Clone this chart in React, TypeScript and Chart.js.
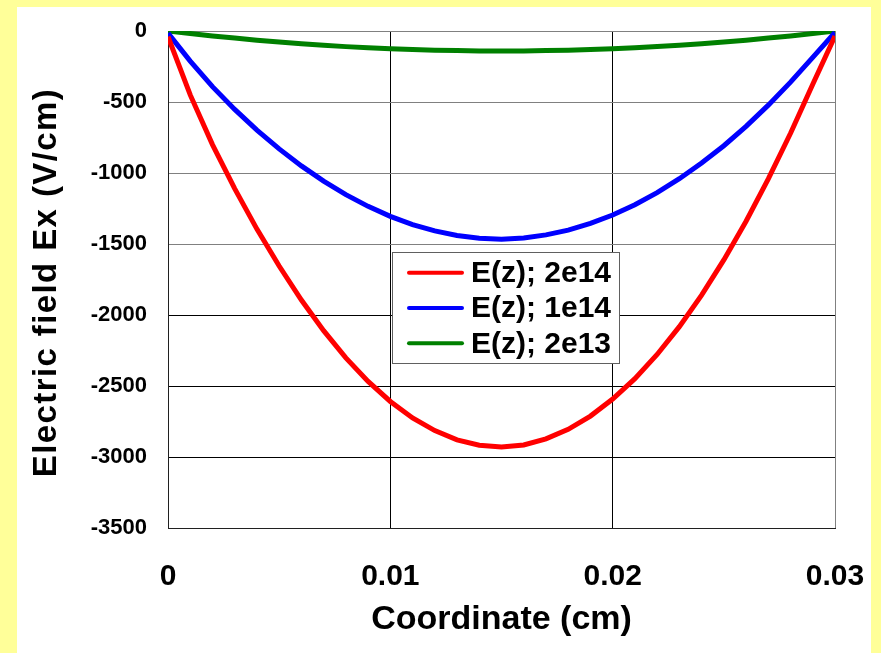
import React, { useEffect, useRef } from "react";
import { Chart, registerables } from "chart.js";

Chart.register(...registerables);

// Coordinate along the device (cm)
const coordinates = [
  0, 0.001, 0.002, 0.003, 0.004, 0.005, 0.006, 0.007, 0.008, 0.009, 0.01,
  0.011, 0.012, 0.013, 0.014, 0.015, 0.016, 0.017, 0.018, 0.019, 0.02,
  0.021, 0.022, 0.023, 0.024, 0.025, 0.026, 0.027, 0.028, 0.029, 0.03,
];

// Electric field Ex (V/cm)
const field2e14 = [
  -40, -450, -800, -1110, -1395, -1655, -1895, -2110, -2302, -2468, -2609,
  -2725, -2814, -2879, -2917, -2930, -2915, -2872, -2805, -2712, -2592,
  -2448, -2278, -2082, -1860, -1612, -1340, -1042, -720, -375, -35,
];
const field1e14 = [
  -15, -212, -392, -552, -698, -830, -950, -1057, -1152, -1235, -1305,
  -1363, -1408, -1440, -1460, -1466, -1458, -1436, -1402, -1355, -1296,
  -1224, -1138, -1040, -930, -808, -672, -522, -360, -186, -10,
];
const field2e13 = [
  0, -18, -35, -50, -65, -78, -90, -100, -110, -118, -125,
  -131, -135, -138, -140, -140, -140, -138, -135, -131, -125,
  -118, -110, -100, -90, -78, -65, -50, -35, -18, 0,
];

const seriesLabels = ["E(z); 2e14", "E(z); 1e14", "E(z); 2e13"];
const seriesColors = ["#FF0000", "#0000FF", "#008000"];

const xTickValues = [0, 0.01, 0.02, 0.03];
const xTickLabels = ["0", "0.01", "0.02", "0.03"];
const yTickLabelsByValue: Record<string, string> = {
  "0": "0",
  "-500": "-500",
  "-1000": "-1000",
  "-1500": "-1500",
  "-2000": "-2000",
  "-2500": "-2500",
  "-3000": "-3000",
  "-3500": "-3500",
};

const xAxisTitle = "Coordinate (cm)";
const yAxisTitle = "Electric field Ex (V/cm)";

const FONT = '"Liberation Sans", Arial, Helvetica, sans-serif';

const boxLegendPlugin = {
  id: "boxLegend",
  afterDatasetsDraw(chart: any) {
    const ctx = chart.ctx as CanvasRenderingContext2D;
    ctx.save();
    const bx = 375;
    const by = 245;
    const bw = 227;
    const bh = 111;
    ctx.fillStyle = "#FFFFFF";
    ctx.fillRect(bx, by, bw, bh);
    ctx.strokeStyle = "#606060";
    ctx.lineWidth = 1;
    ctx.strokeRect(bx + 0.5, by + 0.5, bw, bh);
    chart.data.datasets.forEach((ds: any, i: number) => {
      const cy = 265.7 + i * 35.3;
      ctx.strokeStyle = ds.borderColor;
      ctx.lineWidth = 4;
      ctx.lineCap = "round";
      ctx.beginPath();
      ctx.moveTo(392, cy);
      ctx.lineTo(445, cy);
      ctx.stroke();
      ctx.fillStyle = "#000000";
      ctx.font = `bold 30px ${FONT}`;
      ctx.textAlign = "left";
      ctx.textBaseline = "middle";
      ctx.fillText(ds.label, 454, cy + 1);
    });
    ctx.restore();
  },
};

const yTitlePlugin = {
  id: "yTitle",
  afterDraw(chart: any) {
    const ctx = chart.ctx as CanvasRenderingContext2D;
    ctx.save();
    ctx.translate(30, 275.5);
    ctx.rotate(-Math.PI / 2);
    ctx.font = `bold 33px ${FONT}`;
    try {
      (ctx as any).letterSpacing = "1.4px";
    } catch (e) {
      /* ignore */
    }
    ctx.fillStyle = "#000000";
    ctx.textAlign = "center";
    ctx.textBaseline = "middle";
    ctx.fillText(yAxisTitle, 0, 0);
    ctx.restore();
  },
};

export default function App() {
  const canvasRef = useRef<HTMLCanvasElement | null>(null);

  useEffect(() => {
    const canvas = canvasRef.current;
    if (!canvas) return;
    const makeData = (values: number[]) =>
      coordinates.map((x, i) => ({ x, y: values[i] }));
    const allSeries = [field2e14, field1e14, field2e13];

    const chart = new Chart(canvas, {
      type: "line",
      data: {
        datasets: allSeries.map((values, i) => ({
          label: seriesLabels[i],
          data: makeData(values),
          borderColor: seriesColors[i],
          backgroundColor: seriesColors[i],
          borderWidth: 5,
          pointRadius: 0,
          tension: 0,
          fill: false,
        })),
      },
      options: {
        animation: false,
        responsive: false,
        events: [],
        layout: { padding: { left: 0, top: 24, right: 36, bottom: 0 } },
        plugins: {
          legend: { display: false },
          title: { display: false },
          tooltip: { enabled: false },
        },
        scales: {
          x: {
            type: "linear",
            min: 0,
            max: 0.03,
            afterFit: (scale: any) => {
              scale.height = 125;
              scale.paddingLeft = 0;
              scale.paddingRight = 0;
            },
            afterBuildTicks: (scale: any) => {
              scale.ticks = xTickValues.map((v) => ({ value: v }));
            },
            ticks: {
              autoSkip: false,
              maxRotation: 0,
              padding: 31,
              color: "#000000",
              font: { family: FONT, size: 30, weight: "bold" },
              callback: (value: any, index: number) => {
                const k = xTickValues.findIndex(
                  (t) => Math.abs(t - Number(value)) < 1e-9
                );
                return k >= 0 ? xTickLabels[k] : xTickLabels[index];
              },
            },
            grid: {
              drawTicks: false,
              lineWidth: 1,
              color: (c: any) => {
                const v = c.tick ? c.tick.value : 0;
                return v > 0.025 ? "#808080" : "#000000";
              },
            },
            border: { display: true, color: "#202020", width: 1 },
            title: {
              display: true,
              text: xAxisTitle,
              color: "#000000",
              font: { family: FONT, size: 34, weight: "bold" },
              padding: { top: 0, bottom: 13 },
            },
          },
          y: {
            type: "linear",
            min: -3500,
            max: 0,
            afterFit: (scale: any) => {
              scale.width = 151;
              scale.paddingTop = 0;
              scale.paddingBottom = 0;
            },
            ticks: {
              stepSize: 500,
              padding: 21,
              color: "#000000",
              font: { family: FONT, size: 22, weight: "bold" },
              callback: (value: any) =>
                yTickLabelsByValue[String(Math.round(Number(value)))] ??
                String(value),
            },
            grid: {
              drawTicks: false,
              lineWidth: 1,
              color: (c: any) => {
                const v = c.tick ? c.tick.value : 0;
                return v >= -1500 ? "#808080" : "#000000";
              },
            },
            border: { display: true, color: "#202020", width: 1 },
          },
        },
      },
      plugins: [boxLegendPlugin, yTitlePlugin],
    } as any);

    return () => {
      chart.destroy();
    };
  }, []);

  return (
    <div
      style={{
        position: "fixed",
        left: 0,
        top: 0,
        width: 881,
        height: 653,
        background: "#FFFF99",
        overflow: "hidden",
      }}
    >
      <div
        style={{
          position: "absolute",
          left: 17,
          top: 7,
          width: 854,
          height: 646,
          background: "#FFFFFF",
        }}
      >
        <canvas
          ref={canvasRef}
          width={854}
          height={646}
          style={{ display: "block", width: 854, height: 646 }}
        />
      </div>
    </div>
  );
}
